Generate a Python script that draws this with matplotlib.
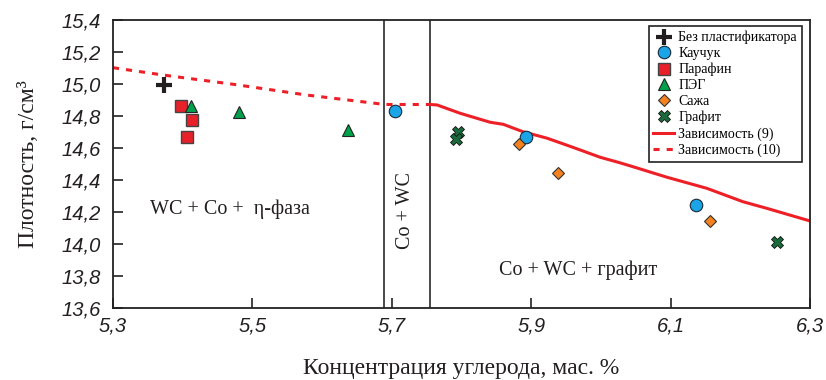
import matplotlib
matplotlib.use("Agg")
import matplotlib.pyplot as plt

# ---- data ----
x_plain = [5.373]
y_plain = [14.995]

x_rubber = [5.705, 5.893, 6.137]
y_rubber = [14.833, 14.671, 14.244]

x_paraffin = [5.397, 5.414, 5.406]
y_paraffin = [14.862, 14.775, 14.669]

x_peg = [5.412, 5.481, 5.637]
y_peg = [14.865, 14.823, 14.712]

x_soot = [5.882, 5.939, 6.157]
y_soot = [14.625, 14.442, 14.144]

x_graphite = [5.795, 5.792, 6.253]
y_graphite = [14.700, 14.655, 14.011]

x_dep9 = [5.755, 5.765, 5.798, 5.841, 5.860, 5.888, 5.923, 5.960, 5.999,
          6.027, 6.046, 6.095, 6.152, 6.204, 6.238, 6.300]
y_dep9 = [14.872, 14.869, 14.817, 14.761, 14.748, 14.702, 14.661, 14.604,
          14.542, 14.508, 14.483, 14.417, 14.348, 14.264, 14.223, 14.144]

x_dep10 = [5.300, 5.372, 5.473, 5.578, 5.690, 5.755]
y_dep10 = [15.102, 15.056, 14.998, 14.931, 14.872, 14.872]

phase_bounds = [5.689, 5.755]

x_ticks = [5.3, 5.5, 5.7, 5.9, 6.1, 6.3]
y_ticks = [13.6, 13.8, 14.0, 14.2, 14.4, 14.6, 14.8, 15.0, 15.2, 15.4]

labels = ["Без пластификатора", "Каучук", "Парафин", "ПЭГ", "Сажа", "Графит",
          "Зависимость (9)", "Зависимость (10)"]

SERIF = ["Liberation Serif", "DejaVu Serif"]
SANS = ["Liberation Sans", "DejaVu Sans"]

fig = plt.figure(figsize=(8.26, 3.80), dpi=100)
ax = fig.add_axes([113 / 826, 72 / 380, 697 / 826, 288 / 380])

red = "#ee2027"
ax.plot(x_dep9, y_dep9, color=red, lw=2.2, label=labels[6], zorder=2)
ax.plot(x_dep10, y_dep10, color=red, lw=2.2, ls=(0, (2, 2.3)), label=labels[7], zorder=2)

for xb in phase_bounds:
    ax.axvline(xb, color="#3a3a3a", lw=1.3, zorder=1)

ax.plot(x_plain, y_plain, ls="none", marker="+", ms=12, mew=3, color="#231f20",
        label=labels[0], zorder=3)
ax.plot(x_rubber, y_rubber, ls="none", marker="o", ms=9, mfc="#1ba5e6", mec="#1a2a3a",
        mew=0.8, label=labels[1], zorder=3)
ax.plot(x_paraffin, y_paraffin, ls="none", marker="s", ms=8.5, mfc="#e8202a", mec="#444444",
        mew=1.0, label=labels[2], zorder=3)
ax.plot(x_peg, y_peg, ls="none", marker="^", ms=8.5, mfc="#00a14b", mec="#222222",
        mew=0.8, label=labels[3], zorder=3)
ax.plot(x_soot, y_soot, ls="none", marker="D", ms=6.5, mfc="#f58220", mec="#333333",
        mew=0.8, label=labels[4], zorder=3)
ax.plot(x_graphite, y_graphite, ls="none", marker="X", ms=8, mfc="#1a6b3c", mec="#111111",
        mew=0.6, label=labels[5], zorder=3)

ax.set_xlim(5.3, 6.3)
ax.set_ylim(13.6, 15.4)
ax.set_xticks(x_ticks)
ax.set_yticks(y_ticks)
ax.set_xticklabels([f"{v:.1f}".replace(".", ",") for v in x_ticks])
ax.set_yticklabels([f"{v:.1f}".replace(".", ",") for v in y_ticks])
ax.tick_params(direction="in", length=7, width=1.2, color="#222222")
ax.tick_params(axis="x", pad=6)
ax.tick_params(axis="y", pad=9)
for lab in ax.get_xticklabels() + ax.get_yticklabels():
    lab.set_fontfamily(SANS)
    lab.set_fontstyle("italic")
    lab.set_fontsize(14.5)
    lab.set_color("#231f20")
for sp in ax.spines.values():
    sp.set_linewidth(1.3)
    sp.set_color("#222222")

ax.set_xlabel("Концентрация углерода, мас. %", fontfamily=SERIF, fontsize=17, color="#231f20")
ax.xaxis.set_label_coords(0.5, -66 / 288)
ax.xaxis.label.set_va("baseline")
ax.set_ylabel("Плотность, г/см³", fontfamily=SERIF, fontsize=17, color="#231f20")
ax.yaxis.set_label_coords(-85 / 697, 0.5)
ax.yaxis.label.set_va("center")

ax.text(5.353, 14.22, "WC + Co +  η-фаза", fontfamily=SERIF, fontsize=14.5,
        ha="left", va="center", color="#231f20")
ax.text(5.854, 13.833, "Co + WC + графит", fontfamily=SERIF, fontsize=14.5,
        ha="left", va="center", color="#231f20")
ax.text(5.719, 14.21, "Co + WC", fontfamily=SERIF, fontsize=14.5, rotation=90,
        ha="center", va="center", color="#231f20")

h, l = ax.get_legend_handles_labels()
hd = dict(zip(l, h))
leg = ax.legend([hd[k] for k in labels], labels, loc="upper right",
                bbox_to_anchor=(0.9885, 0.979), borderaxespad=0, fancybox=False,
                framealpha=1, edgecolor="#222222", prop={"family": SERIF, "size": 10},
                handlelength=1.5, handletextpad=0.3, labelspacing=0.2,
                borderpad=0.35, numpoints=1)
leg.get_frame().set_linewidth(1.2)

fig.savefig("out.png", dpi=100)
